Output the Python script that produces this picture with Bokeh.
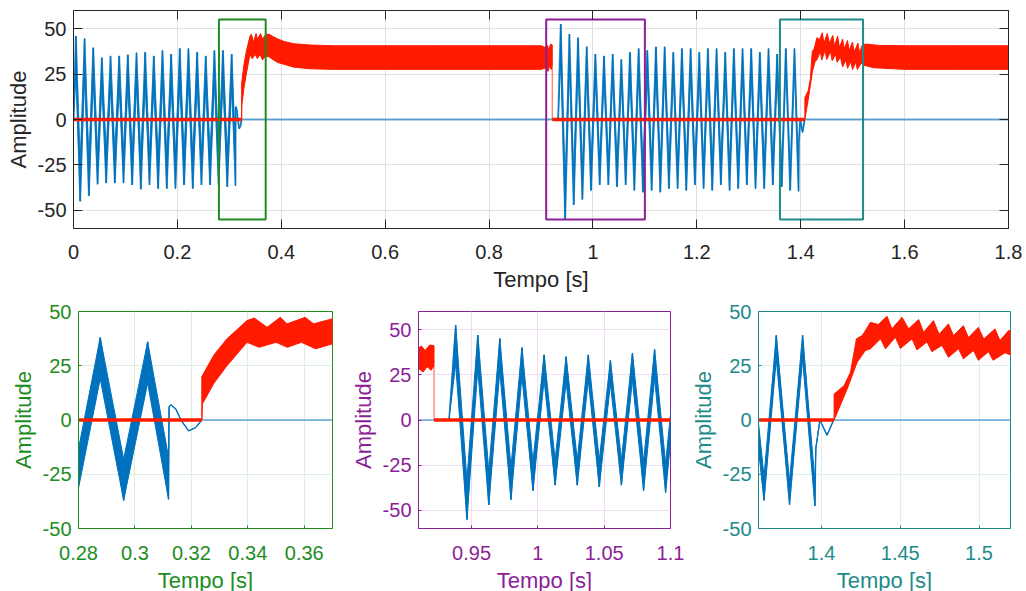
from bokeh.plotting import figure
from bokeh.layouts import column, row
from bokeh.models import Range1d, FixedTicker, CustomJSTickFormatter, LinearAxis
from bokeh.embed import file_html
from bokeh.resources import INLINE

# ---------------- data ----------------
# blue signal: extrema (time, outer value, inner ripple value)
blue_t = [0.0000,
          0.0046, 0.0129, 0.0213, 0.0296, 0.0380, 0.0463, 0.0546, 0.0629, 0.0713, 0.0796,
          0.0880, 0.0963, 0.1046, 0.1129, 0.1213, 0.1296, 0.1380, 0.1463, 0.1546, 0.1629,
          0.1713, 0.1796, 0.1880, 0.1963, 0.2046, 0.2129, 0.2213, 0.2296, 0.2380, 0.2463,
          0.2546, 0.2629, 0.2713, 0.2793, 0.2877, 0.2960, 0.3045, 0.3119,
          0.3121, 0.3127, 0.3145, 0.3163, 0.3190, 0.3215, 0.3237,
          0.9330,
          0.9380, 0.9465, 0.9547, 0.9630, 0.9713, 0.9797, 0.9880, 0.9963, 1.0047, 1.0130,
          1.0213, 1.0297, 1.0380, 1.0463, 1.0547, 1.0630, 1.0713, 1.0797, 1.0880, 1.0963,
          1.1047, 1.1130, 1.1213, 1.1297, 1.1380, 1.1463, 1.1547, 1.1630, 1.1713, 1.1797,
          1.1880, 1.1963, 1.2047, 1.2130, 1.2213, 1.2297, 1.2380, 1.2463, 1.2547, 1.2630,
          1.2713, 1.2797, 1.2880, 1.2963, 1.3047, 1.3130, 1.3213, 1.3297, 1.3380, 1.3463,
          1.3547, 1.3635, 1.3713, 1.3797, 1.3880, 1.3958,
          1.3964, 1.3990, 1.4035, 1.4077, 1.8000]
blue_outer = [0,
              46, -45, 44.5, -42, 39.5, -35.6, 34, -35, 35, -35,
              35, -35, 35.6, -36, 36.7, -38.4, 37, -36, 35, -38,
              38, -38, 36, -38, 39, -36, 39, -38, 37, -36,
              35, -36, 38, -36, 38, -37, 36, -36.5,
              6, 7, 5, 0, -5, -3.5, 0,
              0,
              52.5, -55, 47, -47, 45, -44, 40, -39, 36, -36,
              35, -36, 36, -37, 33, -36, 37, -39, 39, -40,
              38, -39, 40, -40, 40, -38, 37, -38, 39, -39,
              39, -36, 37, -38, 39, -39, 39, -36, 37, -39,
              39, -38, 39, -36, 39, -38, 37, -38, 39, -36,
              36, -37, 39, -39, 39, -39.5,
              -13, 0, -7, 0, 0]
blue_inner = [0,
              23, -22, 22, -21, 20, -18, 17, -17, 17, -17,
              17, -17, 18, -18, 18, -19, 18, -18, 17, -19,
              19, -19, 18, -19, 19, -18, 19, -19, 18, -18,
              17, -18, 19, -18, 19, -18, 17, -17,
              6, 7, 5, 0, -5, -3.5, 0,
              0,
              31, -33, 28, -28, 27, -26, 24, -23, 22, -22,
              21, -22, 22, -22, 20, -22, 22, -23, 23, -24,
              23, -23, 24, -24, 24, -23, 22, -23, 23, -23,
              23, -22, 22, -23, 23, -23, 23, -22, 22, -23,
              23, -23, 23, -22, 23, -23, 22, -23, 23, -22,
              22, -26, 28, -28, 28, -28,
              -13, 0, -7, 0, 0]

# red signal: envelope of the switching band (upper / lower edges)
red1_up_t = [0.3237, 0.3280, 0.3326, 0.3397, 0.3423, 0.3468, 0.3515, 0.3539, 0.3603, 0.3633,
             0.3698, 0.3760, 0.3850, 0.3920, 0.4050, 0.4240, 0.4560, 0.5000, 0.6000, 0.7000,
             0.8000, 0.9000, 0.9100, 0.9120, 0.9150, 0.9185, 0.9217]
red1_up_v = [20, 30, 37.4, 45.8, 47, 42.7, 47.3, 44.3, 47.3, 44.3,
             46.6, 47, 45.5, 44.5, 43, 41.7, 41, 40.6, 40.6, 40.6,
             40.6, 40.6, 39.5, 41, 38.5, 41.5, 41]
red1_lo_t = [0.3237, 0.3239, 0.3280, 0.3326, 0.3397, 0.3440, 0.3500, 0.3540, 0.3590, 0.3640,
             0.3698, 0.3760, 0.3920, 0.4240, 0.4560, 0.5000, 0.6000, 0.7000, 0.8000, 0.9000,
             0.9100, 0.9135, 0.9165, 0.9195, 0.9217]
red1_lo_v = [0, 7.4, 17, 25, 35.8, 33.5, 35.8, 33.5, 35.8, 32.8,
             35, 34.5, 31.5, 28.8, 27.9, 27.6, 27.6, 27.6, 27.6, 27.6,
             28.5, 26.5, 29.5, 27.5, 30]
red2_up_t = [1.4080, 1.4143, 1.4184, 1.4222, 1.4260, 1.4311, 1.4360, 1.4416, 1.4447, 1.4511,
             1.4553, 1.4617, 1.4648, 1.4711, 1.4747, 1.4806, 1.4838, 1.4901, 1.4933, 1.4996,
             1.5030, 1.5102, 1.5133, 1.5188, 1.5270, 1.5500, 1.6000, 1.7000, 1.8000]
red2_up_v = [12, 15.8, 22, 37.4, 39, 45, 44, 47.8, 42, 47.3,
             42, 46.3, 40.4, 45.8, 39.5, 44.3, 38.9, 43.5, 38, 42.7,
             37.3, 42, 36.6, 41.2, 41.5, 40.8, 40.6, 40.6, 40.6]
red2_lo_t = [1.4080, 1.4163, 1.4226, 1.4278, 1.4311, 1.4375, 1.4406, 1.4469, 1.4501, 1.4575,
             1.4606, 1.4670, 1.4701, 1.4765, 1.4806, 1.4870, 1.4901, 1.4965, 1.4996, 1.5060,
             1.5090, 1.5165, 1.5200, 1.5400, 1.6000, 1.7000, 1.8000]
red2_lo_v = [0, 14.3, 26.6, 32, 32.8, 37.4, 32.8, 38.1, 33, 37.4,
             32.3, 36, 31.5, 34.4, 28.9, 32.8, 28.2, 32, 27.5, 31.5,
             27.5, 31, 30, 28.5, 27.6, 27.6, 27.6]
# intervals where the red signal is zero
red_zero_start = [0.0, 0.9217]
red_zero_end = [0.3237, 1.4080]

# zoom windows
zoom_x0 = [0.28, 0.91, 1.36]
zoom_x1 = [0.37, 1.10, 1.52]
zoom_ylim = [(-50, 50), (-60, 60), (-50, 50)]
zoom_box_y = 55
zoom_colors = ["#1E8C1E", "#8C1E96", "#1E8A8A"]
zoom_grid = ["#DCEEDC", "#EFDDF1", "#DCEEEE"]
zoom_xticks = [[0.28, 0.3, 0.32, 0.34, 0.36], [0.95, 1.0, 1.05, 1.1], [1.4, 1.45, 1.5]]

main_xticks = [0, 0.2, 0.4, 0.6, 0.8, 1.0, 1.2, 1.4, 1.6, 1.8]
yticks = [-50, -25, 0, 25, 50]

assert len(blue_t) == len(blue_outer) == len(blue_inner)
assert len(red1_up_t) == len(red1_up_v) and len(red1_lo_t) == len(red1_lo_v)
assert len(red2_up_t) == len(red2_up_v) and len(red2_lo_t) == len(red2_lo_v)

BLUE = "#0072BD"
RED = "#FF1A00"
FONT = "Liberation Sans"
DARK = "#262626"

fmt = CustomJSTickFormatter(code=r"return tick.toFixed(4).replace(/\.?0+$/, '');")
blank = CustomJSTickFormatter(code="return '';")

# band edges of the blue signal (upper / lower edge at each extremum)
blue_hi = [max(a, b) for a, b in zip(blue_outer, blue_inner)]
blue_lo = [min(a, b) for a, b in zip(blue_outer, blue_inner)]


def draw_signals(p, lw, zero_lw):
    # thin trace of the whole blue signal (visible where it rests at zero)
    p.line(blue_t, blue_outer, line_color=BLUE, line_width=zero_lw, line_alpha=0.6)
    xs, ys = [], []
    for i in range(len(blue_t) - 1):
        if blue_hi[i] == blue_lo[i] == blue_hi[i + 1] == blue_lo[i + 1] == 0:
            continue
        xs.append([blue_t[i], blue_t[i + 1], blue_t[i + 1], blue_t[i]])
        ys.append([blue_hi[i], blue_hi[i + 1], blue_lo[i + 1], blue_lo[i]])
    p.patches(xs, ys, fill_color=BLUE, line_color=BLUE, line_width=lw)
    for ut, uv, lt, lv in ((red1_up_t, red1_up_v, red1_lo_t, red1_lo_v),
                           (red2_up_t, red2_up_v, red2_lo_t, red2_lo_v)):
        p.patch(ut + lt[::-1], uv + lv[::-1], fill_color=RED, line_color=RED, line_width=1)
    p.segment(x0=[red1_lo_t[-1]], y0=[red1_lo_v[-1]], x1=[red1_lo_t[-1]], y1=[0],
              line_color=RED, line_width=1.2, line_alpha=0.6)
    p.segment(x0=red_zero_start, y0=[0] * len(red_zero_start), x1=red_zero_end,
              y1=[0] * len(red_zero_end), line_color=RED, line_width=3.5)


def style_axis(ax, color, tick_in, ticks, formatter):
    ax.ticker = FixedTicker(ticks=ticks)
    ax.formatter = formatter
    ax.axis_line_color = color
    ax.major_tick_line_color = color
    ax.major_tick_in = tick_in
    ax.major_tick_out = 0
    ax.minor_tick_line_color = None
    ax.major_label_text_color = color
    ax.major_label_text_font = FONT
    ax.major_label_text_font_size = "20px"
    ax.axis_label_text_color = color
    ax.axis_label_text_font = FONT
    ax.axis_label_text_font_size = "22px"
    ax.axis_label_text_font_style = "normal"


def style(p, color, grid_color, tick_in, xticks):
    style_axis(p.xaxis[0], color, tick_in, xticks, fmt)
    style_axis(p.yaxis[0], color, tick_in, yticks, fmt)
    p.xaxis.axis_label = "Tempo [s]"
    p.yaxis.axis_label = "Amplitude"
    p.yaxis.major_label_standoff = 7
    p.yaxis.axis_label_standoff = 4
    p.xgrid.grid_line_color = grid_color
    p.ygrid.grid_line_color = grid_color
    p.outline_line_color = color
    p.outline_line_alpha = 1
    p.outline_line_width = 1
    p.background_fill_color = "white"
    p.border_fill_color = "white"


# ---------------- main figure ----------------
top = figure(frame_width=935, frame_height=218, min_border_left=73, min_border_right=18,
             min_border_top=10, min_border_bottom=67,
             x_range=Range1d(0, 1.8), y_range=Range1d(-60, 60),
             output_backend="svg", toolbar_location=None)
draw_signals(top, 0.8, 2.0)
top.quad(left=zoom_x0, right=zoom_x1, bottom=[-zoom_box_y] * 3, top=[zoom_box_y] * 3,
         fill_alpha=0, line_color=zoom_colors, line_width=2)
style(top, DARK, "#E0E0E0", 9, main_xticks)
top.xaxis.major_label_standoff = 16
top.xaxis.axis_label_standoff = 5
# box ticks on right and top
ax_r = LinearAxis()
style_axis(ax_r, DARK, 9, yticks, blank)
ax_r.major_label_standoff = 0
ax_r.major_label_text_font_size = "0px"
top.add_layout(ax_r, "right")
ax_t = LinearAxis()
style_axis(ax_t, DARK, 9, main_xticks, blank)
ax_t.major_label_standoff = 0
ax_t.major_label_text_font_size = "0px"
top.add_layout(ax_t, "above")

# ---------------- zoom panels ----------------
panels = []
borders = [(78, 14, 254), (72, 16, 252), (72, 16, 252)]
for k in range(3):
    bl, br, fw = borders[k]
    p = figure(frame_width=fw, frame_height=217, min_border_left=bl, min_border_right=br,
               min_border_top=16, min_border_bottom=62,
               x_range=Range1d(zoom_x0[k], zoom_x1[k]),
               y_range=Range1d(*zoom_ylim[k]),
               output_backend="svg", toolbar_location=None)
    draw_signals(p, 1.0, 1.5)
    style(p, zoom_colors[k], zoom_grid[k], 3, zoom_xticks[k])
    p.xaxis.major_label_standoff = 17
    p.xaxis.axis_label_standoff = 5
    panels.append(p)

layout = column(top, row(*panels))
open("out.html", "w").write(file_html(layout, INLINE))
